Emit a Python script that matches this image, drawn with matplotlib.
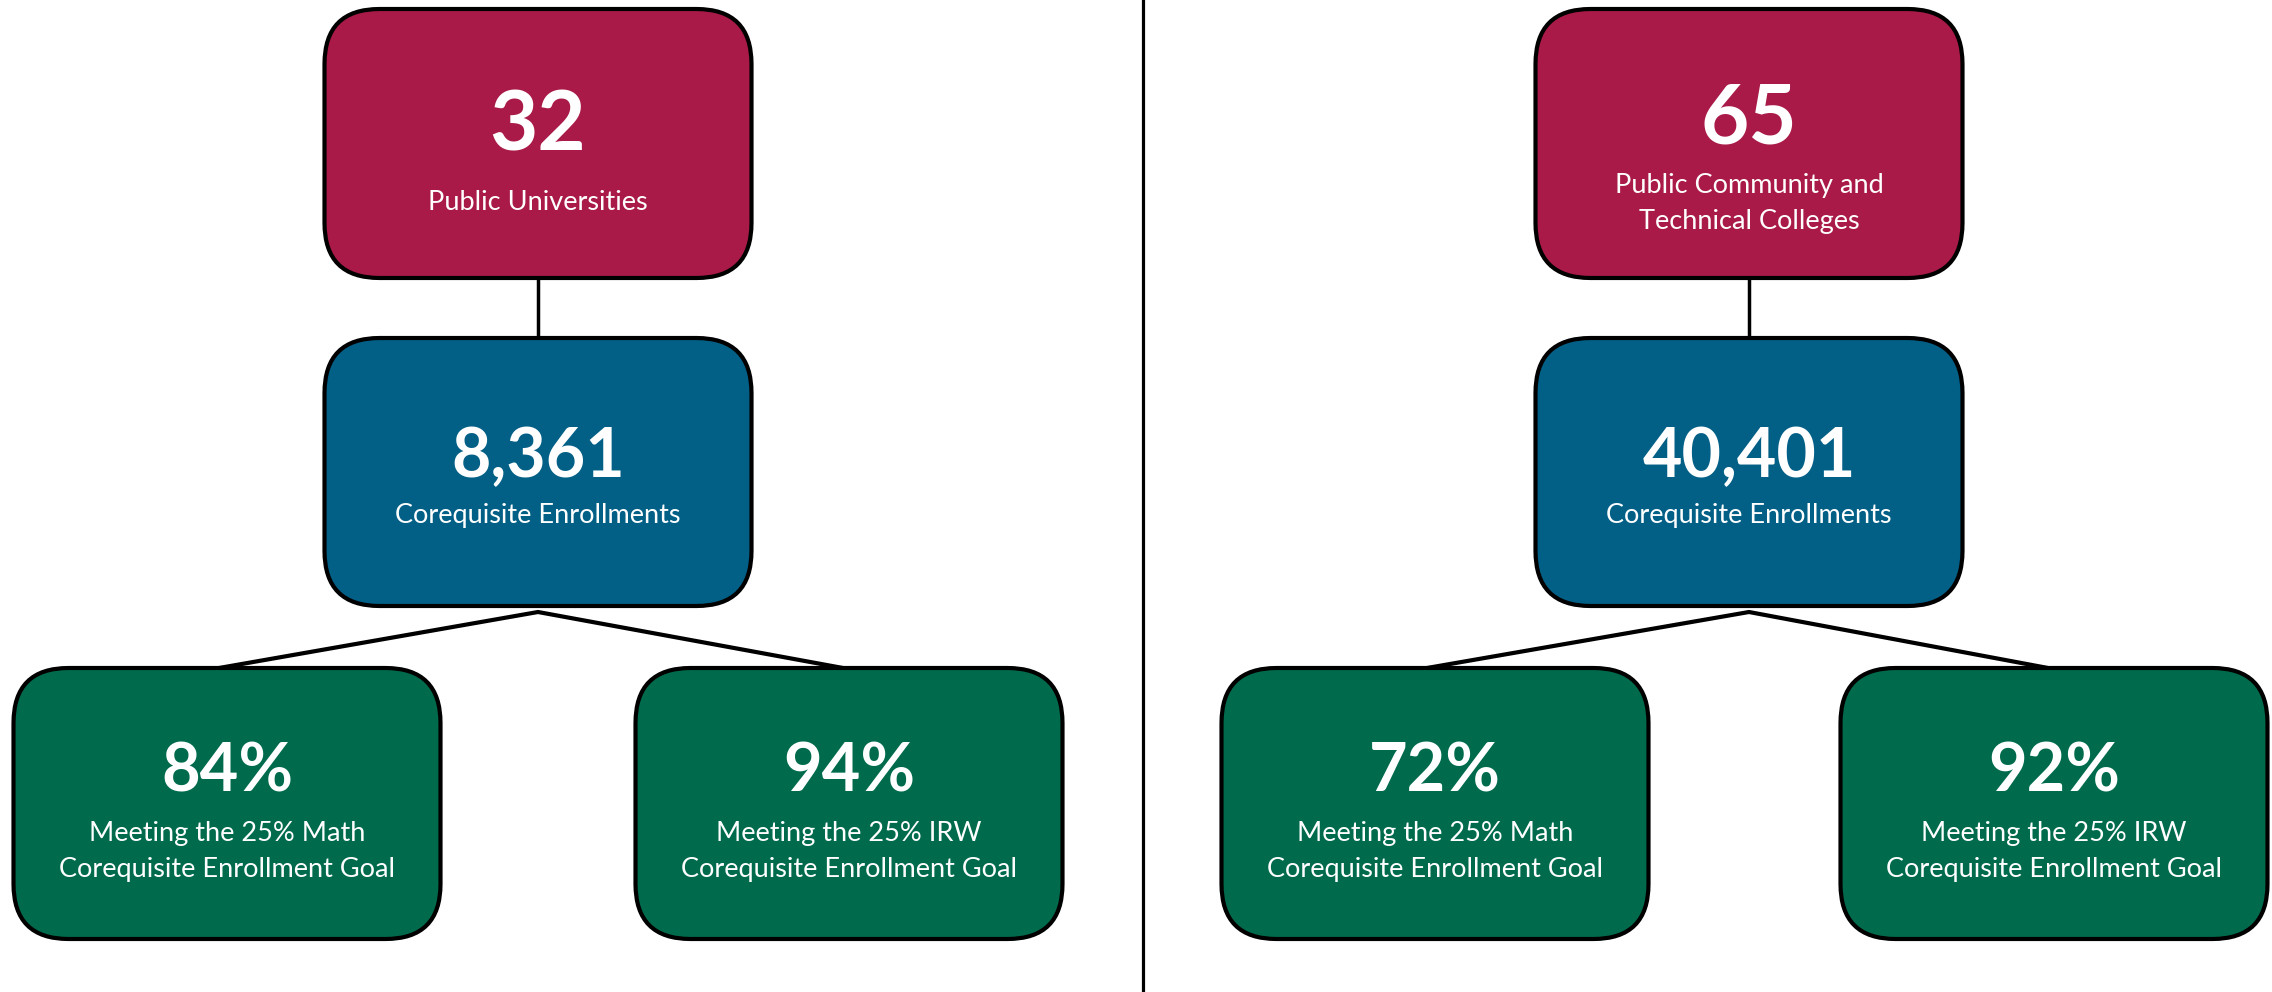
import matplotlib.pyplot as plt
from matplotlib.patches import FancyBboxPatch

plt.rcParams['font.family'] = ['Lato', 'DejaVu Sans']

# values
sectors = ["Public Universities", "Public Community and\nTechnical Colleges"]
institutions = [32, 65]
enrollments = [8361, 40401]
math_goal_pct = [84, 72]
irw_goal_pct = [94, 92]
math_label = "Meeting the 25% Math\nCorequisite Enrollment Goal"
irw_label = "Meeting the 25% IRW\nCorequisite Enrollment Goal"
enroll_label = "Corequisite Enrollments"

RED = "#A91A48"
BLUE = "#025F86"
GREEN = "#006B4C"

# layout (pixels)
W, H = 2272, 992
BOX_W = 427
panel_cx = [538, 1749]
bottom_cx = [[227, 849], [1435, 2054]]
top_y, mid_y, bot_y = (9, 278), (338, 606), (668, 939)


def draw_box(ax, cx, ys, color, big, small, big_size, ybig, ysmall):
    y0, y1 = ys
    box = FancyBboxPatch((cx - BOX_W / 2, y0), BOX_W, y1 - y0,
                         boxstyle="round,pad=0,rounding_size=55",
                         facecolor=color, edgecolor="black", linewidth=3, zorder=3)
    ax.add_patch(box)
    ax.text(cx, y0 + ybig, big, color="white", fontsize=big_size, fontweight="bold",
            ha="center", va="center", zorder=4)
    ax.text(cx, y0 + ysmall, small, color="white", fontsize=19.5,
            ha="center", va="center", linespacing=1.55, zorder=4)


fig = plt.figure(figsize=(W / 100, H / 100), dpi=100)
ax = fig.add_axes([0, 0, 1, 1])
ax.set_xlim(0, W)
ax.set_ylim(H, 0)
ax.axis("off")

# divider between the two sectors
ax.plot([1143, 1143], [0, H], color="black", linewidth=2.3)

for i in range(len(sectors)):
    cx = panel_cx[i]
    lx, rx = bottom_cx[i]
    # connectors
    ax.plot([cx, cx], [top_y[1], mid_y[0]], color="black", linewidth=2.5, zorder=2)
    ax.plot([lx - 8, cx, rx - 6], [bot_y[0], mid_y[1] + 6, bot_y[0]],
            color="black", linewidth=3, zorder=2)

    two_line = "\n" in sectors[i]
    draw_box(ax, cx, top_y, RED, str(institutions[i]), sectors[i], 60,
             111 if two_line else 118, 194)
    draw_box(ax, cx, mid_y, BLUE, f"{enrollments[i]:,}", enroll_label, 49, 120, 178)
    draw_box(ax, lx, bot_y, GREEN, f"{math_goal_pct[i]}%", math_label, 48, 104, 184)
    draw_box(ax, rx, bot_y, GREEN, f"{irw_goal_pct[i]}%", irw_label, 48, 104, 184)

fig.savefig("out.png", dpi=100, facecolor="white")
